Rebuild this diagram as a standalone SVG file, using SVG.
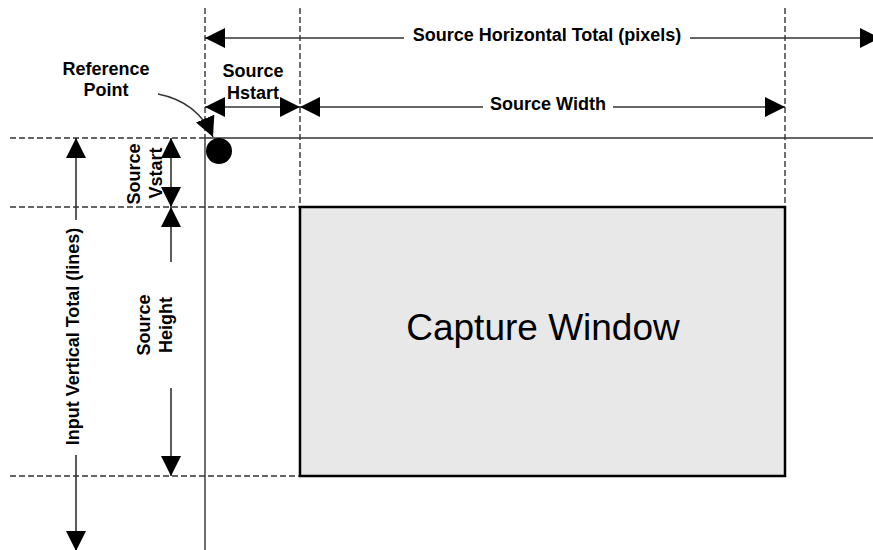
<svg xmlns="http://www.w3.org/2000/svg" width="873" height="550" viewBox="0 0 873 550">
<style>
.dash{stroke:#333;stroke-width:1.4;stroke-dasharray:6,3;fill:none}
.solid{stroke:#333;stroke-width:1.4;fill:none}
.dim{stroke:#333;stroke-width:1.6;fill:none}
.lbl{font-family:"Liberation Sans",Arial,sans-serif;font-weight:bold;font-size:18px;fill:#000;text-anchor:middle}
.big{font-family:"Liberation Sans",Arial,sans-serif;font-size:37px;fill:#000;text-anchor:middle}
</style>
<defs>
<marker id="ah" markerUnits="userSpaceOnUse" markerWidth="20" markerHeight="20" viewBox="0 0 20 20" refX="20" refY="10" orient="auto-start-reverse">
<path d="M0,0 L20,10 L0,20 z" fill="#000"/>
</marker>
</defs>
<rect width="873" height="550" fill="#fff"/>
<g id="guides">
<line class="dash" x1="205" y1="8" x2="205" y2="138"/>
<line class="solid" x1="205" y1="138" x2="205" y2="550"/>
<line class="dash" x1="300" y1="8" x2="300" y2="207"/>
<line class="dash" x1="785" y1="8" x2="785" y2="207"/>
<line class="dash" x1="10" y1="138" x2="205" y2="138"/>
<line class="solid" x1="205" y1="138" x2="873" y2="138"/>
<line class="dash" x1="10" y1="207" x2="300" y2="207"/>
<line class="dash" x1="10" y1="476" x2="300" y2="476"/>
</g>
<g id="capture-window">
<rect x="300" y="207" width="485" height="269" fill="#e8e8e8" stroke="#000" stroke-width="2.5"/>
<text class="big" x="543" y="340">Capture Window</text>
</g>
<g id="reference-point">
<circle cx="219" cy="151" r="13" fill="#000"/>
<text class="lbl" x="106" y="75">Reference</text>
<text class="lbl" x="106" y="96">Point</text>
</g>
<g id="connectors">
<path class="solid" d="M158,94 Q198,102 213,137" marker-end="url(#ah)"/>
<line class="dim" x1="404" y1="38" x2="205" y2="38" marker-end="url(#ah)"/>
<line class="dim" x1="690" y1="38" x2="880" y2="38" marker-end="url(#ah)"/>
<line class="dim" x1="205" y1="107" x2="300" y2="107" marker-start="url(#ah)" marker-end="url(#ah)"/>
<line class="dim" x1="483" y1="107" x2="300" y2="107" marker-end="url(#ah)"/>
<line class="dim" x1="613" y1="107" x2="785" y2="107" marker-end="url(#ah)"/>
<line class="dim" x1="76" y1="220" x2="76" y2="138" marker-end="url(#ah)"/>
<line class="dim" x1="76" y1="455" x2="76" y2="551" marker-end="url(#ah)"/>
<line class="dim" x1="171" y1="138" x2="171" y2="207" marker-start="url(#ah)" marker-end="url(#ah)"/>
<line class="dim" x1="171" y1="262" x2="171" y2="207" marker-end="url(#ah)"/>
<line class="dim" x1="171" y1="388" x2="171" y2="476" marker-end="url(#ah)"/>
</g>
<g id="labels">
<text class="lbl" x="547" y="41">Source Horizontal Total (pixels)</text>
<text class="lbl" x="253" y="77">Source</text>
<text class="lbl" x="253" y="98.5">Hstart</text>
<text class="lbl" x="548" y="110">Source Width</text>
<text class="lbl" transform="translate(79,336.5) rotate(-90)">Input Vertical Total (lines)</text>
<text class="lbl" transform="translate(140,174) rotate(-90)">Source</text>
<text class="lbl" transform="translate(162,173) rotate(-90)">Vstart</text>
<text class="lbl" transform="translate(150,325) rotate(-90)">Source</text>
<text class="lbl" transform="translate(172,325) rotate(-90)">Height</text>
</g>
</svg>
